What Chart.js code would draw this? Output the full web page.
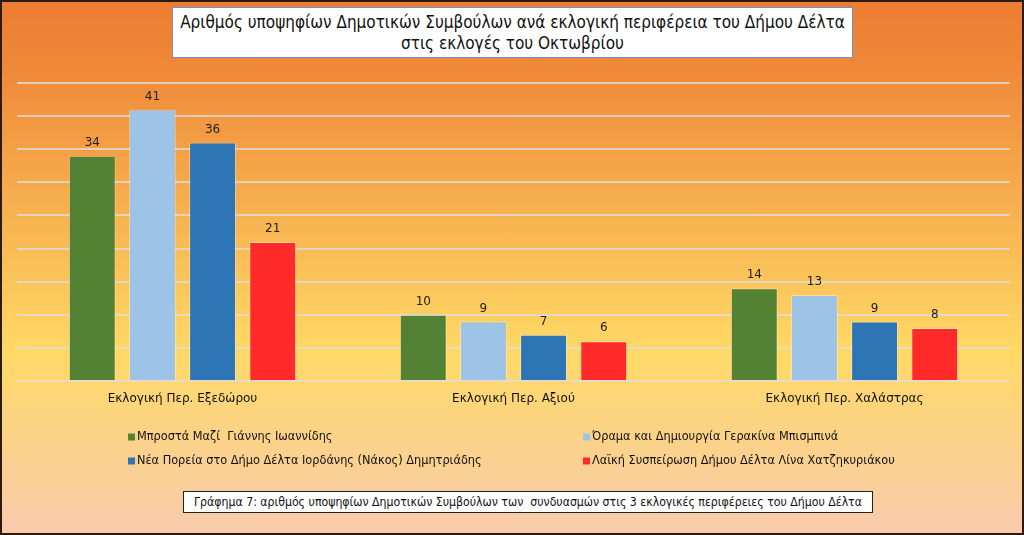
<!DOCTYPE html>
<html>
<head>
<meta charset="utf-8">
<script src="https://cdn.jsdelivr.net/npm/chart.js@4.4.0/dist/chart.umd.min.js"></script>
<style>
    html, body { margin: 0; padding: 0; }
    #frame {
        position: relative;
        width: 1024px;
        height: 535px;
        box-sizing: border-box;
        border: 2px solid #2a1a10;
        background: linear-gradient(to bottom, #ED7D31 0%, #EF8838 12%, #FFD966 66%, #F8CBAD 100%);
        overflow: hidden;
    }
    #chart { position: absolute; left: -2px; top: -2px; }
    .box {
        position: absolute;
        background: #fff;
        font-family: "Liberation Sans Narrow", "DejaVu Sans Condensed", sans-serif;
        color: #111;
        text-align: center;
        white-space: nowrap;
    }
    #title {
        left: 170px; top: 5px; width: 681px; height: 51px;
        border: 1px solid #6b93d6;
        font-size: 17px; line-height: 21px;
        padding-top: 4px; box-sizing: border-box;
    }
    #caption {
        left: 181px; top: 489px; width: 690px; height: 22px;
        border: 1px solid #222;
        font-size: 12.2px; line-height: 20px;
        box-sizing: border-box;
    }
</style>
</head>
<body>
<div id="frame">
    <canvas id="chart" width="1024" height="535"></canvas>
    <div id="title" class="box">Αριθμός υποψηφίων Δημοτικών Συμβούλων ανά εκλογική περιφέρεια του Δήμου Δέλτα<br>στις εκλογές του Οκτωβρίου</div>
    <div id="caption" class="box">Γράφημα 7: αριθμός υποψηφίων Δημοτικών Συμβούλων των &nbsp;συνδυασμών στις 3 εκλογικές περιφέρειες του Δήμου Δέλτα</div>
</div>
<script>
// Data
const districts = ['Εκλογική Περ. Εξεδώρου', 'Εκλογική Περ. Αξιού', 'Εκλογική Περ. Χαλάστρας'];
const partyNames = [
    'Μπροστά Μαζί  Γιάννης Ιωαννίδης',
    'Όραμα και Δημιουργία Γερακίνα Μπισμπινά',
    'Νέα Πορεία στο Δήμο Δέλτα Ιορδάνης (Νάκος) Δημητριάδης',
    'Λαϊκή Συσπείρωση Δήμου Δέλτα Λίνα Χατζηκυριάκου'
];
const mprostaMazi = [34, 10, 14];
const oramaDimiourgia = [41, 9, 13];
const neaPoreia = [36, 7, 9];
const laikiSyspeirosi = [21, 6, 8];
const partyColors = ['#548235', '#9DC3E6', '#2E75B6', '#FF2B2B'];

const NARROW = '"Liberation Sans Narrow", "DejaVu Sans Condensed", sans-serif';

// Value labels above each bar
const valueLabels = {
    id: 'valueLabels',
    afterDatasetsDraw(chart) {
        const ctx = chart.ctx;
        ctx.save();
        ctx.font = '12px "DejaVu Sans", sans-serif';
        ctx.fillStyle = '#222';
        ctx.textAlign = 'center';
        ctx.textBaseline = 'bottom';
        chart.data.datasets.forEach((ds, i) => {
            chart.getDatasetMeta(i).data.forEach((bar, j) => {
                ctx.fillText(ds.data[j], bar.x, bar.y - 7);
            });
        });
        ctx.restore();
    }
};

// Two-column legend below the axis
const gridLegend = {
    id: 'gridLegend',
    afterDraw(chart) {
        const ctx = chart.ctx;
        const cols = [128, 583];
        const rows = [437, 461];
        ctx.save();
        ctx.font = '12.6px ' + NARROW;
        ctx.textBaseline = 'middle';
        ctx.textAlign = 'left';
        chart.data.datasets.forEach((ds, i) => {
            const x = cols[i % 2];
            const y = rows[Math.floor(i / 2)];
            ctx.fillStyle = ds.backgroundColor;
            ctx.fillRect(x, y - 3.5, 7, 7);
            ctx.fillStyle = '#111';
            ctx.fillText(ds.label, x + 9, y);
        });
        ctx.restore();
    }
};

const seriesValues = [mprostaMazi, oramaDimiourgia, neaPoreia, laikiSyspeirosi];

new Chart(document.getElementById('chart').getContext('2d'), {
    type: 'bar',
    data: {
        labels: districts,
        datasets: seriesValues.map((vals, i) => ({
            label: partyNames[i],
            data: vals,
            backgroundColor: partyColors[i],
            borderColor: 'rgba(255,255,255,0.35)',
            borderWidth: 1,
            categoryPercentage: 0.727,
            barPercentage: 0.78
        }))
    },
    options: {
        responsive: false,
        animation: false,
        devicePixelRatio: 1,
        layout: {
            padding: { left: 17, right: 14, top: 83, bottom: 125.5 }
        },
        plugins: {
            legend: { display: false },
            tooltip: { enabled: false }
        },
        scales: {
            x: {
                grid: { display: false },
                border: { display: false },
                ticks: {
                    color: '#111',
                    font: { family: '"DejaVu Sans", sans-serif', size: 12 },
                    padding: 3
                }
            },
            y: {
                min: 0,
                max: 45,
                ticks: { stepSize: 5, display: false },
                border: { display: false },
                grid: {
                    color: 'rgba(225,220,215,0.8)',
                    lineWidth: 2,
                    drawTicks: false
                }
            }
        }
    },
    plugins: [valueLabels, gridLegend]
});
</script>
</body>
</html>
